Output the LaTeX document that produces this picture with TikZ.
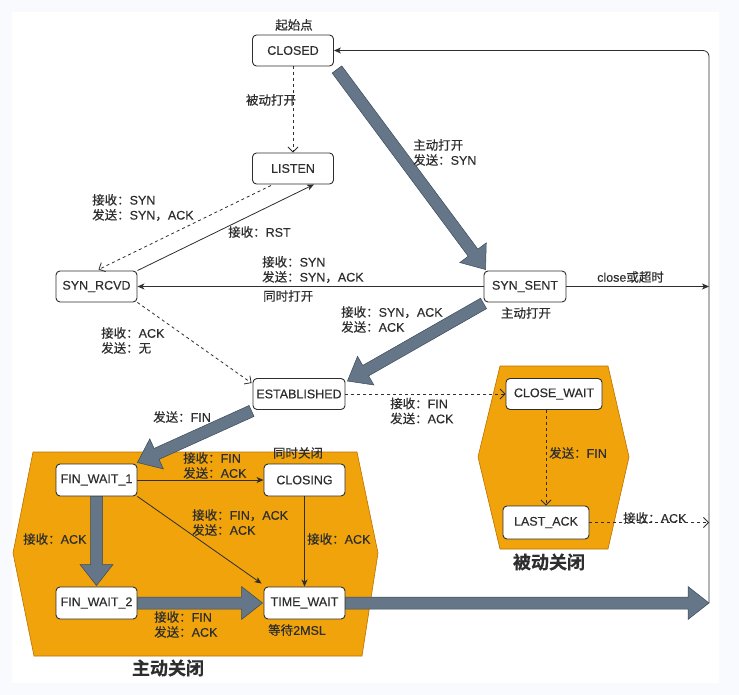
\documentclass[tikz,border=0pt]{standalone}
\usepackage{fontspec}
\setmainfont{Liberation Sans}[FakeBold=0.35]
\newfontfamily\cjk{Noto Sans CJK SC}[FakeBold=0.35,BoldFont={Noto Sans CJK SC Bold}]
\usetikzlibrary{arrows.meta,calc}
\definecolor{orfill}{HTML}{F0A30A}
\definecolor{orline}{HTML}{BD7000}
\definecolor{flexfill}{HTML}{647687}
\definecolor{flexline}{HTML}{3A4A5A}
\definecolor{ink}{HTML}{2E2E2E}
\definecolor{bgout}{HTML}{F9FAFD}
\newcommand\zhs[1]{{\cjk #1}}
\newcommand\flexar[2]{%
  \coordinate (fa) at #1; \coordinate (fb) at #2;
  \coordinate (fh) at ($(fb)!21pt!(fa)$);
  \filldraw[flexst] ($(fa)!6pt!90:(fb)$) -- ($(fh)!6pt!-90:(fa)$) -- ($(fh)!16.5pt!-90:(fa)$) -- (fb)
    -- ($(fh)!16.5pt!90:(fa)$) -- ($(fh)!6pt!90:(fa)$) -- ($(fa)!6pt!-90:(fb)$) -- cycle;}
\begin{document}
\begin{tikzpicture}[x=1pt,y=-1pt,
  st/.style={draw=ink, fill=white, rounded corners=4pt, line width=0.9pt, minimum width=81pt,
    minimum height=31pt, inner sep=1pt, font=\fontsize{12.5}{15}\selectfont, text=ink},
  lbl/.style={font=\fontsize{12.5}{15}\selectfont, text=ink, inner sep=0pt, align=left},
  big/.style={font=\fontsize{18}{20}\selectfont\bfseries, text=ink, inner sep=0pt},
  hexa/.style={fill=orfill, draw=orline, line width=0.6pt},
  flexst/.style={fill=flexfill, draw=flexline, line width=0.5pt, line join=miter},
  sol/.style={draw=ink, line width=0.8pt, -{Stealth[length=7pt,width=6pt,inset=2pt]}},
  dsh/.style={draw=ink, line width=0.8pt, dash pattern=on 3pt off 3pt, -{Straight Barb[length=5pt,width=10pt]}}
]
\useasboundingbox (0,0) rectangle (739,695);
\fill[bgout] (0,0) rectangle (739,695);
\fill[white] (12,12) rectangle (719,683);

% groups
\filldraw[hexa] (33,452) -- (357,452) -- (378,553) -- (362,656) -- (34,656) -- (13,553) -- cycle;
\filldraw[hexa] (500,366) -- (608,366) -- (629,457) -- (608,549) -- (500,549) -- (478,457) -- cycle;

% states
\node[st] (closed) at (293,50.5) {CLOSED};
\node[st] (listen) at (293,168.5) {LISTEN};
\node[st] (sr) at (96.5,286.5) {SYN\_RCVD};
\node[st, minimum width=82pt] (ss) at (525,286.5) {SYN\_SENT};
\node[st, minimum width=92pt] (est) at (299,394) {ESTABLISHED};
\node[st, minimum width=96pt] (cw) at (554,394) {CLOSE\_WAIT};
\node[st, minimum width=86pt, minimum height=33pt] (la) at (546,522.5) {LAST\_ACK};
\node[st, minimum height=32pt] (fw1) at (96.5,480) {FIN\_WAIT\_1};
\node[st, minimum height=32pt] (cl) at (304.5,480) {CLOSING};
\node[st, minimum height=32pt] (fw2) at (96.5,603) {FIN\_WAIT\_2};
\node[st, minimum height=32pt] (tw) at (304.5,603) {TIME\_WAIT};

\coordinate (rb) at (709,603);
\coordinate (rt) at (709,50.5);
\coordinate (rm1) at (709,286.5);
\coordinate (rm2) at (709,522.5);

% thin connectors
\draw[dsh] (closed.south) -- (listen.north);
\draw[dsh] ($(listen.south west)+(19,1)$) -- ($(sr.north)+(2,-1)$);
\draw[sol] (sr.north east) -- ($(listen.south east)+(-20,0)$);
\draw[sol] (ss.west) -- (sr.east);
\draw[dsh] (sr.south east) -- ($(est.north west)+(-1,5)$);
\draw[sol] (ss.east) -- (rm1);
\draw[dsh] (est.east) -- (cw.west);
\draw[dsh] (la.north |- cw.south) -- (la.north);
\draw[dsh] (la.east) -- (rm2);
\draw[sol] (fw1.east) -- (cl.west);
\draw[sol] (fw1.south east) -- ($(tw.north west)+(-2,-3)$);
\draw[sol] (cl.south) -- (tw.north);
\draw[draw=ink, line width=0.8pt, rounded corners=6pt, -{Stealth[length=7pt,width=6pt,inset=2pt]}] (rb) -- (rt) -- (closed.east);

% thick arrows
\flexar{($(closed.south east)+(3,3)$)}{($(ss.north west)+(2,-1)$)}
\flexar{($(ss.south west)+(0,1)$)}{($(est.north east)+(2,3)$)}
\flexar{($(est.south west)+(-1,1)$)}{($(fw1.north east)+(0,-1)$)}
\flexar{(fw1.south)}{($(fw2.north)+(0,-1)$)}
\flexar{(fw2.east)}{($(tw.west)+(-1,0)$)}
\flexar{(tw.east)}{(rb)}

% labels
\node[lbl] (l1) at (294,25) {\zhs{起始点}};
\node[lbl] (l2) at (271,100) {\zhs{被动打开}};
\node[lbl, anchor=west] (l3) at (413,152.5) {\zhs{主动打开}\\\zhs{发送：}SYN};
\node[lbl, anchor=west] (l4) at (92,207.5) {\zhs{接收：}SYN\\\zhs{发送：}SYN\zhs{，}ACK};
\node[lbl, anchor=west] (l5) at (228,232) {\zhs{接收：}RST};
\node[lbl, anchor=west] (l6) at (262,269.5) {\zhs{接收：}SYN\\\zhs{发送：}SYN\zhs{，}ACK};
\node[lbl, anchor=west] (l7) at (263,296) {\zhs{同时打开}};
\node[lbl, anchor=west] (l8) at (341,319.5) {\zhs{接收：}SYN\zhs{，}ACK\\\zhs{发送：}ACK};
\node[lbl] (l9) at (526,313) {\zhs{主动打开}};
\node[lbl, anchor=west] (l10) at (101,340.5) {\zhs{接收：}ACK\\\zhs{发送：无}};
\node[lbl, anchor=west] (l11) at (597,277) {close\zhs{或超时}};
\node[lbl, anchor=west] (l12) at (153,417) {\zhs{发送：}FIN};
\node[lbl, anchor=west] (l13) at (390,411) {\zhs{接收：}FIN\\\zhs{发送：}ACK};
\node[lbl, anchor=west] (l14) at (183,465.5) {\zhs{接收：}FIN\\\zhs{发送：}ACK};
\node[lbl] (l15) at (298,453) {\zhs{同时关闭}};
\node[lbl, anchor=west] (l16) at (192,522.5) {\zhs{接收：}FIN\zhs{，}ACK\\\zhs{发送：}ACK};
\node[lbl, anchor=west] (l17) at (23,539) {\zhs{接收：}ACK};
\node[lbl, anchor=west] (l18) at (307,539) {\zhs{接收：}ACK};
\node[lbl, anchor=west] (l19) at (154,624.5) {\zhs{接收：}FIN\\\zhs{发送：}ACK};
\node[lbl] (l20) at (297,630) {\zhs{等待}2MSL};
\node[lbl, anchor=west] (l21) at (549,453) {\zhs{发送：}FIN};
\node[lbl, anchor=west] (l22) at (623,518) {\zhs{接收：}ACK};
\node[big] (g1) at (549,562) {\zhs{被动关闭}};
\node[big] (g2) at (168,668) {\zhs{主动关闭}};
\end{tikzpicture}
\end{document}
